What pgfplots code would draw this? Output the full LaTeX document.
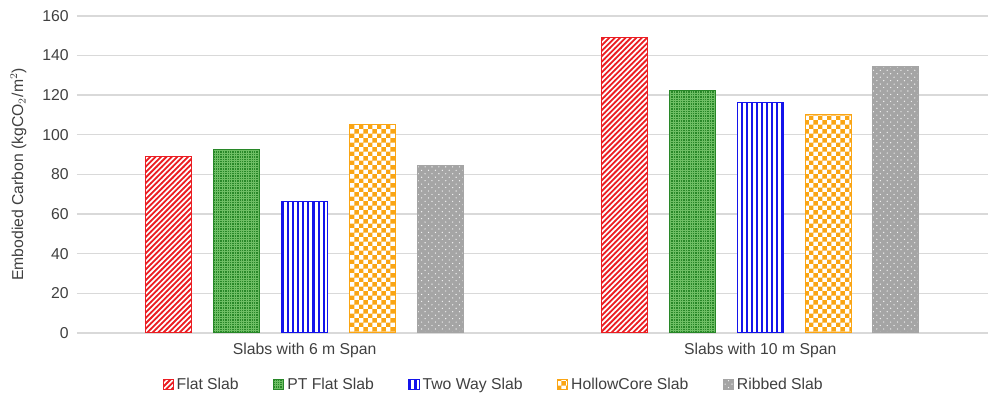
\documentclass[border=0pt]{standalone}
\usepackage{fontspec}
\setmainfont{Liberation Sans}
\usepackage{pgfplots}
\pgfplotsset{compat=1.18}
\usetikzlibrary{patterns}

\definecolor{cred}{RGB}{235,30,35}
\definecolor{cgreen}{RGB}{40,135,40}
\definecolor{cgreenl}{RGB}{110,190,100}
\definecolor{cblue}{RGB}{20,20,235}
\definecolor{corange}{RGB}{250,165,20}
\definecolor{cgray}{RGB}{165,165,165}
\definecolor{ctext}{RGB}{64,64,64}

\pgfdeclarepatternformonly{diagstripes}{\pgfqpoint{-1pt}{-1pt}}{\pgfqpoint{4.6pt}{4.6pt}}{\pgfqpoint{3.6pt}{3.6pt}}{%
  \pgfsetlinewidth{1.2pt}%
  \pgfpathmoveto{\pgfqpoint{-0.1pt}{-0.1pt}}\pgfpathlineto{\pgfqpoint{3.7pt}{3.7pt}}\pgfusepath{stroke}}
\pgfdeclarepatternformonly{vstripes}{\pgfqpoint{0pt}{-1pt}}{\pgfqpoint{3.4pt}{4pt}}{\pgfqpoint{3.4pt}{3pt}}{%
  \pgfsetlinewidth{1.4pt}%
  \pgfpathmoveto{\pgfqpoint{1.7pt}{-1pt}}\pgfpathlineto{\pgfqpoint{1.7pt}{4pt}}\pgfusepath{stroke}}
\pgfdeclarepatternformonly{checker}{\pgfpointorigin}{\pgfqpoint{6pt}{6pt}}{\pgfqpoint{6pt}{6pt}}{%
  \pgfpathrectangle{\pgfpointorigin}{\pgfqpoint{3pt}{3pt}}%
  \pgfpathrectangle{\pgfqpoint{3pt}{3pt}}{\pgfqpoint{3pt}{3pt}}%
  \pgfusepath{fill}}
\pgfdeclarepatternformonly{finegrid}{\pgfqpoint{-0.5pt}{-0.5pt}}{\pgfqpoint{2.5pt}{2.5pt}}{\pgfqpoint{1.6pt}{1.6pt}}{%
  \pgfsetlinewidth{0.25pt}%
  \pgfpathmoveto{\pgfqpoint{0.8pt}{-0.5pt}}\pgfpathlineto{\pgfqpoint{0.8pt}{2.5pt}}%
  \pgfpathmoveto{\pgfqpoint{-0.5pt}{0.8pt}}\pgfpathlineto{\pgfqpoint{2.5pt}{0.8pt}}%
  \pgfusepath{stroke}}
\pgfdeclarepatternformonly{sparsedots}{\pgfqpoint{-0.5pt}{-0.5pt}}{\pgfqpoint{5pt}{5pt}}{\pgfqpoint{4.6pt}{4.6pt}}{%
  \pgfpathcircle{\pgfqpoint{0.6pt}{0.6pt}}{0.45pt}%
  \pgfpathcircle{\pgfqpoint{2.9pt}{2.9pt}}{0.45pt}%
  \pgfusepath{fill}}

\begin{document}
\begin{tikzpicture}
\useasboundingbox (-51.3pt,-44pt) rectangle (608.3pt,222pt);
\begin{axis}[
  at={(0,0)}, anchor=south west,
  scale only axis, width=607.6pt, height=211.4pt,
  ybar, bar width=0.101,
  xmin=-0.5, xmax=1.5, ymin=0, ymax=160,
  xtick={0,1}, xticklabels={Slabs with 6 m Span, Slabs with 10 m Span},
  ytick={0,20,...,160},
  ymajorgrids, grid style={draw=black!15, line width=0.9pt},
  axis line style={draw=none},
  major tick length=0pt,
  /pgf/number format/assume math mode=true,
  tick label style={font=\fontsize{10.5}{12}\selectfont, text=ctext},
  yticklabel style={xshift=-2pt},
  xticklabel style={yshift=-3pt},
  ylabel={Embodied Carbon (kgCO$_2$/m$^2$)},
  ylabel style={font=\fontsize{10.5}{12}\selectfont, text=ctext, at={(axis description cs:-0.0642,0.5)}, anchor=center},
  legend columns=5,
  legend style={draw=none, at={(axis description cs:0.458,-0.164)}, anchor=center,
    font=\fontsize{10.5}{12}\selectfont, text=ctext,
    /tikz/every even column/.append style={column sep=21pt}},
  legend image code/.code={\draw[#1, bar shift=0pt, bar width=0pt] (0pt,-3.3pt) rectangle (6.7pt,3.4pt);},
]
\addplot[bar shift=-0.298, draw=cred, line width=0.7pt, fill=white,
  postaction={pattern=diagstripes, pattern color=cred}]
  coordinates {(0,89.2) (1,148.9)};
\addplot[bar shift=-0.149, draw=cgreen, line width=0.7pt, fill=cgreen,
  postaction={pattern=finegrid, pattern color=cgreenl}]
  coordinates {(0,92.7) (1,122.4)};
\addplot[bar shift=0, draw=cblue, line width=0.7pt, fill=white,
  postaction={pattern=vstripes, pattern color=cblue}]
  coordinates {(0,66.3) (1,116.2)};
\addplot[bar shift=0.149, draw=corange, line width=0.7pt, fill=white,
  postaction={pattern=checker, pattern color=corange}]
  coordinates {(0,105.3) (1,110.2)};
\addplot[bar shift=0.298, draw=cgray, line width=0.7pt, fill=cgray,
  postaction={pattern=sparsedots, pattern color=white!90!cgray}]
  coordinates {(0,84.6) (1,134.6)};
\legend{Flat Slab, PT Flat Slab, Two Way Slab, HollowCore Slab, Ribbed Slab}
\end{axis}
\end{tikzpicture}
\end{document}
